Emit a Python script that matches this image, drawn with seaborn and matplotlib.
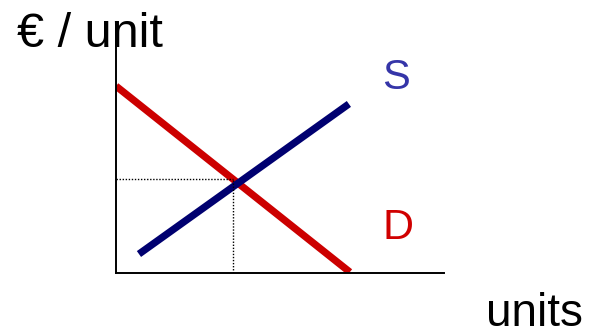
import numpy as np
import pandas as pd
import seaborn as sns
import matplotlib.pyplot as plt

# curve end points (quantity, price)
demand_q = [0.0, 7.13]
demand_p = [8.27, 0.04]
supply_q = [0.70, 7.10]
supply_p = [0.84, 7.48]
eq_q = 3.57
eq_p = 4.15

sns.set_style("white")
plt.rcParams['font.family'] = ['Liberation Sans', 'DejaVu Sans']

W, H = 592, 331
fig = plt.figure(figsize=(W / 100, H / 100), dpi=100)
# axes box in pixels: left 116, right 444, top 47, bottom 273
ax = fig.add_axes([116 / W, 1 - 273 / H, (444 - 116) / W, (273 - 47) / H])

df_d = pd.DataFrame({'q': demand_q, 'p': demand_p})
df_s = pd.DataFrame({'q': supply_q, 'p': supply_p})
sns.lineplot(data=df_d, x='q', y='p', ax=ax, color='#CC0000', linewidth=5.2,
             solid_capstyle='butt', sort=False)
sns.lineplot(data=df_s, x='q', y='p', ax=ax, color='#000070', linewidth=5.2,
             solid_capstyle='butt', sort=False)

# dotted guides to equilibrium
ax.plot([0, eq_q], [eq_p, eq_p], color='black', linewidth=1.0, linestyle=(0, (1, 1.2)))
ax.plot([eq_q, eq_q], [0, eq_p], color='black', linewidth=1.0, linestyle=(0, (1, 1.2)))

ax.set_xlim(0, 10)
ax.set_ylim(0, 10)
ax.set_xticks([])
ax.set_yticks([])
ax.set_xlabel('')
ax.set_ylabel('')
sns.despine(ax=ax)
for side in ['left', 'bottom']:
    ax.spines[side].set_color('black')
    ax.spines[side].set_linewidth(1.4)
ax.patch.set_alpha(0)

fig.text(17 / W, 1 - 47 / H, '€ / unit', fontsize=35, va='baseline', ha='left', color='black')
fig.text(382 / W, 1 - 89 / H, 'S', fontsize=30, va='baseline', ha='left', color='#3535A8')
fig.text(382 / W, 1 - 239 / H, 'D', fontsize=31, va='baseline', ha='left', color='#D00000')
fig.text(486 / W, 1 - 326 / H, 'units', fontsize=33, va='baseline', ha='left', color='black')

fig.savefig('out.png', dpi=100)
